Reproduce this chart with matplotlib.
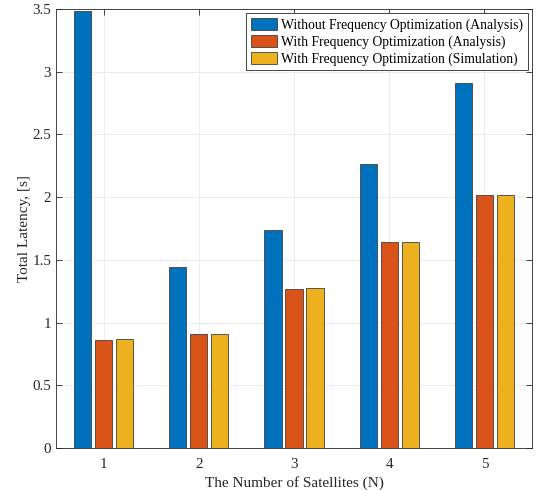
import matplotlib.pyplot as plt
import numpy as np

plt.rcParams['font.family'] = ['Liberation Serif', 'DejaVu Serif']

# Данные (читаем с графика)
satellites = [1, 2, 3, 4, 5]
no_opt_analysis = [3.48, 1.44, 1.735, 2.265, 2.91]
opt_analysis = [0.865, 0.905, 1.27, 1.645, 2.015]
opt_simulation = [0.872, 0.905, 1.272, 1.645, 2.018]
labels = ['Without Frequency Optimization (Analysis)',
          'With Frequency Optimization (Analysis)',
          'With Frequency Optimization (Simulation)']
colors = ['#0072BD', '#D95319', '#EDB120']

fig = plt.figure(figsize=(5.36, 4.90), dpi=100)
ax = fig.add_axes([0.1045, 0.0857, 0.888, 0.896])

x = np.array(satellites, dtype=float)
offsets = [-0.22, 0.0, 0.22]
series = [no_opt_analysis, opt_analysis, opt_simulation]
for s, off, c, lab in zip(series, offsets, colors, labels):
    ax.bar(x + off, s, width=0.18, color=c, edgecolor='#404040',
           linewidth=0.6, label=lab, zorder=3)

ax.set_xlim(0.5, 5.5)
ax.set_ylim(0, 3.5)
ax.set_xticks(satellites)
ax.set_yticks(np.arange(0, 3.51, 0.5))
ax.set_yticklabels(['0', '0.5', '1', '1.5', '2', '2.5', '3', '3.5'])

ax.grid(True, color='#ebebeb', linewidth=0.7, zorder=0)
for sp in ax.spines.values():
    sp.set_color('#262626')
    sp.set_linewidth(0.6)
ax.tick_params(direction='in', length=4, width=0.6, colors='#262626',
               labelsize=10.8, top=True, right=True)
ax.tick_params(axis='x', pad=7)

ax.set_xlabel('The Number of Satellites (N)', fontsize=11, color='#262626', labelpad=4)
ax.set_ylabel('Total Latency, [s]', fontsize=11, color='#262626', labelpad=1)

leg = ax.legend(loc='upper right', fontsize=9.8, fancybox=False, framealpha=1,
                edgecolor='#262626', borderaxespad=0.3, handlelength=1.9,
                handleheight=1.0, handletextpad=0.3, labelspacing=0.22,
                borderpad=0.35)
leg.get_frame().set_linewidth(0.6)

fig.savefig('out.png', dpi=100)
